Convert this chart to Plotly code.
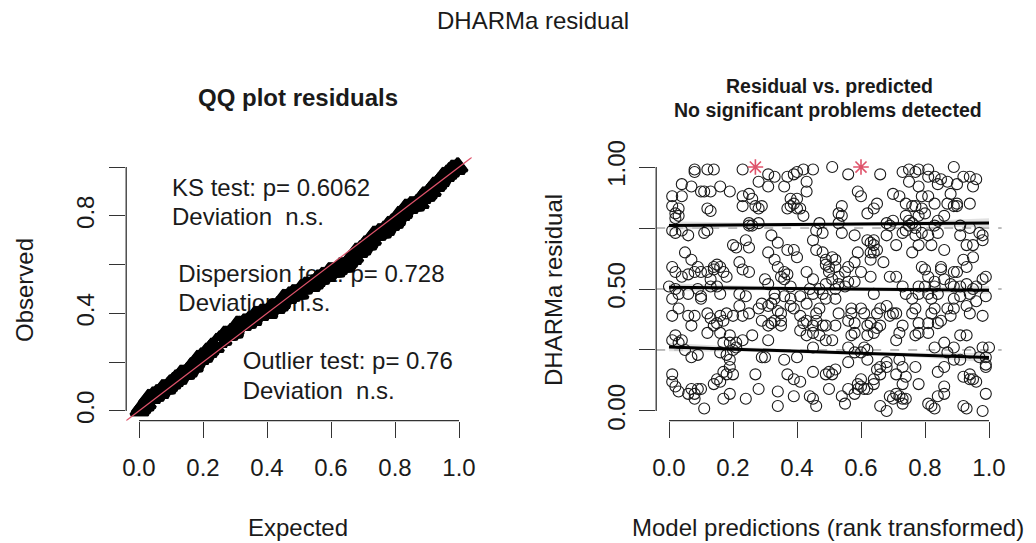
import numpy as np
import plotly.graph_objects as go

W, H = 1036, 543
FONT = "Liberation Sans, Arial, Helvetica, sans-serif"
RED = "#DF536B"

# ---- residuals vs. predicted (rank transformed) ----
pred_x = [
    0.01, 0.01, 0.02, 0.04, 0.04, 0.03, 0.02, 0.03, 0.01, 0.02, 0.04, 0.06, 0.08, 0.08, 0.10, 0.07,
    0.05, 0.07, 0.09, 0.01, 0.02, 0.04, 0.06, 0.08, 0.00, 0.02, 0.03, 0.06, 0.01, 0.03, 0.01, 0.06,
    0.08, 0.07, 0.02, 0.04, 0.03, 0.01, 0.05, 0.07, 0.09, 0.01, 0.01, 0.02, 0.03, 0.06, 0.08, 0.07,
    0.09, 0.10, 0.11, 0.08, 0.10, 0.10, 0.09, 0.10,
    0.11, 0.12, 0.14, 0.13, 0.12, 0.13, 0.12, 0.11, 0.16, 0.19, 0.12, 0.14, 0.15, 0.16, 0.17, 0.14,
    0.13, 0.15, 0.12, 0.13, 0.15, 0.16, 0.14, 0.12, 0.16, 0.17, 0.18, 0.19, 0.17, 0.19, 0.16, 0.18,
    0.19, 0.19, 0.17, 0.18, 0.20, 0.16, 0.17, 0.19, 0.14, 0.15, 0.20, 0.21, 0.18, 0.16, 0.13,
    0.23, 0.23, 0.23, 0.25, 0.26, 0.27, 0.28, 0.25, 0.26, 0.28, 0.25, 0.29, 0.24, 0.25, 0.22, 0.23,
    0.22, 0.24, 0.25, 0.22, 0.20, 0.23, 0.25, 0.28, 0.29, 0.26, 0.21, 0.21, 0.20, 0.23, 0.27, 0.24,
    0.28, 0.29, 0.29,
    0.31, 0.33, 0.28, 0.31, 0.32, 0.34, 0.37, 0.36, 0.39, 0.38, 0.38, 0.37, 0.39, 0.40, 0.31, 0.33,
    0.34, 0.30, 0.31, 0.33, 0.31, 0.32, 0.33, 0.34, 0.35, 0.36, 0.37, 0.36, 0.38, 0.36, 0.38, 0.31,
    0.32, 0.33, 0.31, 0.30, 0.35, 0.35, 0.35, 0.38, 0.39, 0.36, 0.37, 0.39, 0.40, 0.34, 0.34, 0.39,
    0.37, 0.39, 0.40,
    0.40, 0.42, 0.45, 0.43, 0.43, 0.42, 0.41, 0.40, 0.46, 0.48, 0.47, 0.45, 0.46, 0.48, 0.49, 0.50,
    0.50, 0.49, 0.43, 0.45, 0.44, 0.45, 0.47, 0.49, 0.41, 0.43, 0.41, 0.42, 0.43, 0.45, 0.46, 0.48,
    0.49, 0.45, 0.41, 0.43, 0.49, 0.47, 0.45, 0.45, 0.45, 0.46, 0.44, 0.41, 0.50, 0.49, 0.50, 0.51,
    0.47, 0.49, 0.46, 0.48,
    0.54, 0.53, 0.54, 0.53, 0.54, 0.52, 0.52, 0.51, 0.51, 0.53, 0.53, 0.52, 0.55, 0.56, 0.58, 0.59,
    0.55, 0.56, 0.58, 0.52, 0.53, 0.57, 0.57, 0.56, 0.58, 0.57, 0.58, 0.52, 0.51, 0.56, 0.58, 0.56,
    0.51, 0.52, 0.54, 0.55, 0.56, 0.58, 0.59, 0.59, 0.60, 0.60, 0.56, 0.59, 0.60, 0.58, 0.60, 0.60,
    0.66, 0.62, 0.64, 0.65, 0.68, 0.70, 0.62, 0.63, 0.64, 0.64, 0.63, 0.64, 0.65, 0.63, 0.67, 0.69,
    0.63, 0.66, 0.65, 0.68, 0.62, 0.63, 0.65, 0.61, 0.62, 0.64, 0.61, 0.60, 0.62, 0.62, 0.65, 0.66,
    0.68, 0.68, 0.66, 0.64, 0.64, 0.62, 0.61, 0.66, 0.68, 0.69, 0.70, 0.68, 0.69, 0.64, 0.66, 0.69,
    0.70,
    0.73, 0.75, 0.77, 0.78, 0.70, 0.72, 0.75, 0.78, 0.74, 0.76, 0.74, 0.75, 0.76, 0.75, 0.74, 0.77,
    0.78, 0.79, 0.79, 0.77, 0.77, 0.79, 0.78, 0.76, 0.71, 0.73, 0.71, 0.73, 0.74, 0.76, 0.78, 0.78,
    0.77, 0.76, 0.78, 0.78, 0.77, 0.72, 0.73, 0.71, 0.71, 0.72, 0.73, 0.71, 0.74, 0.73, 0.72, 0.73,
    0.74, 0.73, 0.71, 0.77, 0.78, 0.79, 0.80, 0.80,
    0.81, 0.83, 0.81, 0.84, 0.87, 0.85, 0.89, 0.88, 0.87, 0.89, 0.81, 0.83, 0.80, 0.84, 0.86, 0.81,
    0.83, 0.84, 0.82, 0.86, 0.85, 0.85, 0.89, 0.81, 0.83, 0.83, 0.81, 0.82, 0.84, 0.86, 0.88, 0.89,
    0.83, 0.82, 0.85, 0.81, 0.81, 0.84, 0.88, 0.89, 0.87, 0.89, 0.83, 0.86, 0.89, 0.87, 0.89, 0.84,
    0.86, 0.82, 0.83, 0.84, 0.86, 0.86, 0.81,
    0.92, 0.94, 0.96, 0.90, 0.95, 0.94, 0.90, 0.90, 0.91, 0.94, 0.97, 0.98, 0.91, 0.93, 0.95, 0.92,
    0.93, 0.90, 0.95, 0.98, 0.99, 0.98, 0.96, 0.95, 0.94, 0.91, 0.91, 0.93, 0.98, 0.96, 0.93, 0.94,
    0.93, 0.91, 0.91, 0.94, 0.98, 1.00, 0.99, 0.99, 0.99, 0.92, 0.94, 0.95, 0.94, 0.96, 0.99, 0.93,
    0.92, 0.98, 0.97, 0.99,
]
resid_y = [
    0.88, 0.84, 0.81, 0.93, 0.88, 0.80, 0.79, 0.83, 0.74, 0.73, 0.74, 0.72, 0.99, 0.98, 0.90, 0.92,
    0.65, 0.62, 0.59, 0.59, 0.57, 0.55, 0.56, 0.57, 0.51, 0.50, 0.48, 0.48, 0.46, 0.42, 0.39, 0.39,
    0.39, 0.35, 0.31, 0.29, 0.28, 0.29, 0.25, 0.22, 0.23, 0.15, 0.12, 0.10, 0.08, 0.07, 0.05, 0.09,
    0.09, 0.09, 0.01, 0.07, 0.46, 0.47, 0.50, 0.57,
    0.90, 0.99, 0.99, 0.90, 0.83, 0.82, 0.74, 0.73, 0.92, 0.90, 0.57, 0.59, 0.60, 0.59, 0.57, 0.58,
    0.54, 0.51, 0.40, 0.38, 0.36, 0.39, 0.35, 0.32, 0.32, 0.37, 0.40, 0.31, 0.28, 0.28, 0.24, 0.23,
    0.21, 0.18, 0.16, 0.15, 0.15, 0.12, 0.05, 0.07, 0.11, 0.13, 0.68, 0.67, 0.55, 0.48, 0.51,
    0.99, 0.88, 0.84, 0.89, 0.87, 0.84, 0.83, 0.77, 0.76, 0.77, 0.76, 0.84, 0.70, 0.67, 0.61, 0.58,
    0.48, 0.47, 0.57, 0.43, 0.39, 0.39, 0.40, 0.42, 0.44, 0.31, 0.28, 0.26, 0.25, 0.29, 0.15, 0.05,
    0.09, 0.22, 0.37,
    0.97, 0.96, 0.94, 0.92, 0.72, 0.69, 0.96, 0.92, 0.97, 0.87, 0.84, 0.83, 0.85, 0.83, 0.65, 0.62,
    0.59, 0.54, 0.52, 0.48, 0.43, 0.44, 0.46, 0.41, 0.55, 0.57, 0.56, 0.54, 0.51, 0.47, 0.46, 0.35,
    0.36, 0.37, 0.29, 0.22, 0.40, 0.37, 0.35, 0.43, 0.42, 0.21, 0.15, 0.13, 0.22, 0.08, 0.02, 0.06,
    0.66, 0.66, 0.63,
    0.98, 0.99, 0.99, 0.90, 0.94, 0.80, 0.83, 0.87, 0.74, 0.73, 0.77, 0.70, 0.66, 0.65, 0.62, 0.59,
    0.57, 0.60, 0.57, 0.54, 0.50, 0.48, 0.50, 0.52, 0.47, 0.44, 0.39, 0.36, 0.37, 0.35, 0.37, 0.35,
    0.35, 0.32, 0.33, 0.31, 0.29, 0.31, 0.26, 0.16, 0.05, 0.02, 0.06, 0.12, 0.09, 0.15, 0.16, 1.00,
    0.42, 0.46, 0.40, 0.48,
    0.84, 0.81, 0.80, 0.77, 0.73, 0.62, 0.59, 0.63, 0.54, 0.55, 0.52, 0.50, 0.57, 0.59, 0.61, 0.65,
    0.51, 0.53, 0.53, 0.46, 0.40, 0.40, 0.42, 0.37, 0.36, 0.31, 0.32, 0.35, 0.29, 0.26, 0.24, 0.20,
    0.15, 0.17, 0.06, 0.03, 0.09, 0.07, 0.09, 0.11, 0.10, 0.13, 0.97, 0.90, 0.88, 0.72, 0.57, 0.42,
    0.97, 0.81, 0.83, 0.85, 0.77, 0.78, 0.70, 0.69, 0.68, 0.70, 0.65, 0.65, 0.66, 0.62, 0.61, 0.55,
    0.55, 0.42, 0.40, 0.43, 0.35, 0.36, 0.34, 0.40, 0.31, 0.32, 0.26, 0.24, 0.25, 0.21, 0.17, 0.18,
    0.20, 0.18, 0.15, 0.13, 0.11, 0.09, 0.09, 0.02, 0.00, 0.06, 0.05, 0.72, 0.76, 0.48, 0.35, 0.39,
    0.40,
    0.98, 0.99, 0.98, 0.99, 0.89, 0.88, 0.94, 0.92, 0.85, 0.84, 0.80, 0.78, 0.77, 0.76, 0.74, 0.75,
    0.80, 0.83, 0.88, 0.84, 0.72, 0.73, 0.68, 0.65, 0.68, 0.73, 0.55, 0.51, 0.48, 0.46, 0.48, 0.51,
    0.42, 0.40, 0.36, 0.32, 0.31, 0.32, 0.35, 0.40, 0.29, 0.21, 0.18, 0.15, 0.14, 0.11, 0.06, 0.05,
    0.05, 0.03, 0.07, 0.18, 0.11, 0.59, 0.58, 0.51,
    0.99, 0.96, 0.96, 0.93, 0.94, 0.95, 1.00, 0.89, 0.85, 0.84, 0.88, 0.85, 0.81, 0.78, 0.80, 0.72,
    0.76, 0.73, 0.68, 0.66, 0.59, 0.58, 0.57, 0.55, 0.53, 0.51, 0.48, 0.46, 0.48, 0.54, 0.52, 0.51,
    0.42, 0.40, 0.37, 0.36, 0.32, 0.36, 0.39, 0.46, 0.42, 0.42, 0.26, 0.28, 0.26, 0.24, 0.21, 0.16,
    0.18, 0.02, 0.01, 0.06, 0.07, 0.10, 0.03,
    0.96, 0.96, 0.95, 0.93, 0.92, 0.85, 0.85, 0.84, 0.76, 0.75, 0.73, 0.72, 0.72, 0.68, 0.68, 0.62,
    0.59, 0.57, 0.63, 0.70, 0.55, 0.54, 0.51, 0.50, 0.48, 0.51, 0.47, 0.52, 0.39, 0.45, 0.43, 0.40,
    0.31, 0.31, 0.21, 0.24, 0.26, 0.26, 0.22, 0.19, 0.18, 0.14, 0.13, 0.13, 0.15, 0.12, 0.07, 0.01,
    0.02, 0.00, 0.22, 0.47,
]
outlier_x = [0.27, 0.60]
outlier_y = [1.00, 1.00]

# quantile regressions (0.25, 0.5, 0.75) with confidence bands
qr_x = [0.0, 0.25, 0.5, 0.75, 1.0]
q25_fit = [0.262, 0.251, 0.240, 0.230, 0.219]
q25_lo = [0.245, 0.243, 0.234, 0.222, 0.200]
q25_hi = [0.280, 0.260, 0.247, 0.239, 0.238]
q50_fit = [0.507, 0.504, 0.501, 0.498, 0.495]
q50_lo = [0.490, 0.495, 0.494, 0.490, 0.478]
q50_hi = [0.524, 0.513, 0.508, 0.506, 0.512]
q75_fit = [0.760, 0.763, 0.765, 0.768, 0.771]
q75_lo = [0.742, 0.754, 0.758, 0.759, 0.752]
q75_hi = [0.778, 0.772, 0.772, 0.777, 0.790]
ref_levels = [0.25, 0.5, 0.75]

# ---- QQ plot: observed = sorted residuals, expected = uniform plotting positions ----
observed = np.sort(np.array(resid_y + outlier_y))
n = len(observed)
expected = (np.arange(1, n + 1) - 0.5) / n

qq_text = ["KS test: p= 0.6062", "Deviation  n.s.",
           "Dispersion test: p= 0.728", "Deviation  n.s.",
           "Outlier test: p= 0.76", "Deviation  n.s."]
qq_text_x = [0.103, 0.103, 0.123, 0.123, 0.324, 0.324]
qq_text_y = [0.905, 0.785, 0.553, 0.433, 0.195, 0.075]

fig = go.Figure()

# text first so the QQ points are drawn over it (as in the reference)
fig.add_trace(go.Scatter(x=qq_text_x, y=qq_text_y, text=qq_text, mode="text",
                         textposition="middle right",
                         textfont=dict(family=FONT, size=24, color="#1a1a1a"),
                         xaxis="x", yaxis="y", hoverinfo="skip", showlegend=False,
                         cliponaxis=False))
fig.add_trace(go.Scatter(x=expected, y=observed, mode="markers",
                         marker=dict(symbol="triangle-up-open", size=15, color="black",
                                     line=dict(width=3, color="black")),
                         xaxis="x", yaxis="y", showlegend=False))
fig.add_trace(go.Scatter(x=[-0.04, 1.04], y=[-0.04, 1.04], mode="lines",
                         line=dict(color=RED, width=1.2),
                         xaxis="x", yaxis="y", showlegend=False, cliponaxis=False))

# right panel: dashed reference lines
for lv in ref_levels:
    fig.add_trace(go.Scatter(x=[-0.04, 1.04], y=[lv, lv], mode="lines",
                             line=dict(color="#7a7a7a", width=1, dash="dash"),
                             xaxis="x2", yaxis="y2", showlegend=False, hoverinfo="skip"))

# confidence bands
for lo, hi in [(q25_lo, q25_hi), (q50_lo, q50_hi), (q75_lo, q75_hi)]:
    fig.add_trace(go.Scatter(x=qr_x + qr_x[::-1], y=hi + lo[::-1], mode="lines",
                             fill="toself", fillcolor="rgba(200,200,200,0.55)",
                             line=dict(width=0), xaxis="x2", yaxis="y2",
                             showlegend=False, hoverinfo="skip"))

fig.add_trace(go.Scatter(x=pred_x, y=resid_y, mode="markers",
                         marker=dict(symbol="circle-open", size=11, color="#1a1a1a",
                                     line=dict(width=1.1, color="#1a1a1a")),
                         xaxis="x2", yaxis="y2", showlegend=False, cliponaxis=False))
fig.add_trace(go.Scatter(x=outlier_x, y=outlier_y, mode="markers",
                         marker=dict(symbol="asterisk-open", size=13, color=RED,
                                     line=dict(width=1.6, color=RED)),
                         xaxis="x2", yaxis="y2", showlegend=False, cliponaxis=False))

for fit in [q25_fit, q50_fit, q75_fit]:
    fig.add_trace(go.Scatter(x=qr_x, y=fit, mode="lines",
                             line=dict(color="black", width=3),
                             xaxis="x2", yaxis="y2", showlegend=False))

# ---- layout ----
xdomL = [126.2 / W, 471.8 / W]
xdomR = [656.2 / W, 1001.8 / W]
ydom = [1 - 420.7 / H, 1 - 157.3 / H]

tickfont = dict(family=FONT, size=24, color="#1a1a1a")
common = dict(range=[-0.04, 1.04], showgrid=False, zeroline=False, showline=False,
              ticks="outside", ticklen=16, tickwidth=1.3, tickcolor="#333",
              tickfont=tickfont, automargin=False, fixedrange=True)

fig.update_layout(
    width=W, height=H, margin=dict(l=0, r=0, t=0, b=0),
    paper_bgcolor="white", plot_bgcolor="white",
    xaxis=dict(domain=xdomL, anchor="y", tickvals=[0, 0.2, 0.4, 0.6, 0.8, 1.0],
               ticktext=["0.0", "0.2", "0.4", "0.6", "0.8", "1.0"], ticklabelstandoff=9, **common),
    yaxis=dict(domain=ydom, anchor="x", tickvals=[0, 0.2, 0.4, 0.6, 0.8, 1.0],
               ticktext=["0.0", "", "0.4", "", "0.8", ""], tickangle=-90, ticklabelstandoff=6,
               **common),
    xaxis2=dict(domain=xdomR, anchor="y2", tickvals=[0, 0.2, 0.4, 0.6, 0.8, 1.0],
                ticktext=["0.0", "0.2", "0.4", "0.6", "0.8", "1.0"], ticklabelstandoff=9, **common),
    yaxis2=dict(domain=ydom, anchor="x2", tickvals=[0, 0.25, 0.5, 0.75, 1.0],
                ticktext=["0.00", "", "0.50", "", "1.00"], tickangle=-90, ticklabelstandoff=5,
                **common),
    font=dict(family=FONT, color="#1a1a1a"),
)

# R-style axis lines spanning first to last tick
line_style = dict(color="#333", width=1.3)
shapes = [
    dict(type="line", xref="x", yref="paper", x0=0, x1=1, y0=ydom[0], y1=ydom[0], line=line_style),
    dict(type="line", xref="paper", yref="y", x0=xdomL[0], x1=xdomL[0], y0=0, y1=1, line=line_style),
    dict(type="line", xref="x2", yref="paper", x0=0, x1=1, y0=ydom[0], y1=ydom[0], line=line_style),
    dict(type="line", xref="paper", yref="y2", x0=xdomR[0], x1=xdomR[0], y0=0, y1=1, line=line_style),
]
fig.update_layout(shapes=shapes)

def ann(text, px, py, size=24, bold=False, angle=0):
    t = f"<b>{text}</b>" if bold else text
    return dict(text=t, x=px / W, y=1 - py / H, xref="paper", yref="paper",
                showarrow=False, xanchor="center", yanchor="middle", textangle=angle,
                font=dict(family=FONT, size=size, color="#1a1a1a"))

fig.update_layout(annotations=[
    ann("DHARMa residual", 533, 20, size=24),
    ann("QQ plot residuals", 298, 97, size=24, bold=True),
    ann("Residual vs. predicted", 829, 86, size=19.5, bold=True),
    ann("No significant problems detected", 828, 110, size=19.5, bold=True),
    ann("Expected", 298, 527),
    ann("Observed", 24, 290, angle=-90),
    ann("DHARMa residual", 553, 290, angle=-90),
    ann("Model predictions (rank transformed)", 828, 527),
])

fig.write_html("out.html")
